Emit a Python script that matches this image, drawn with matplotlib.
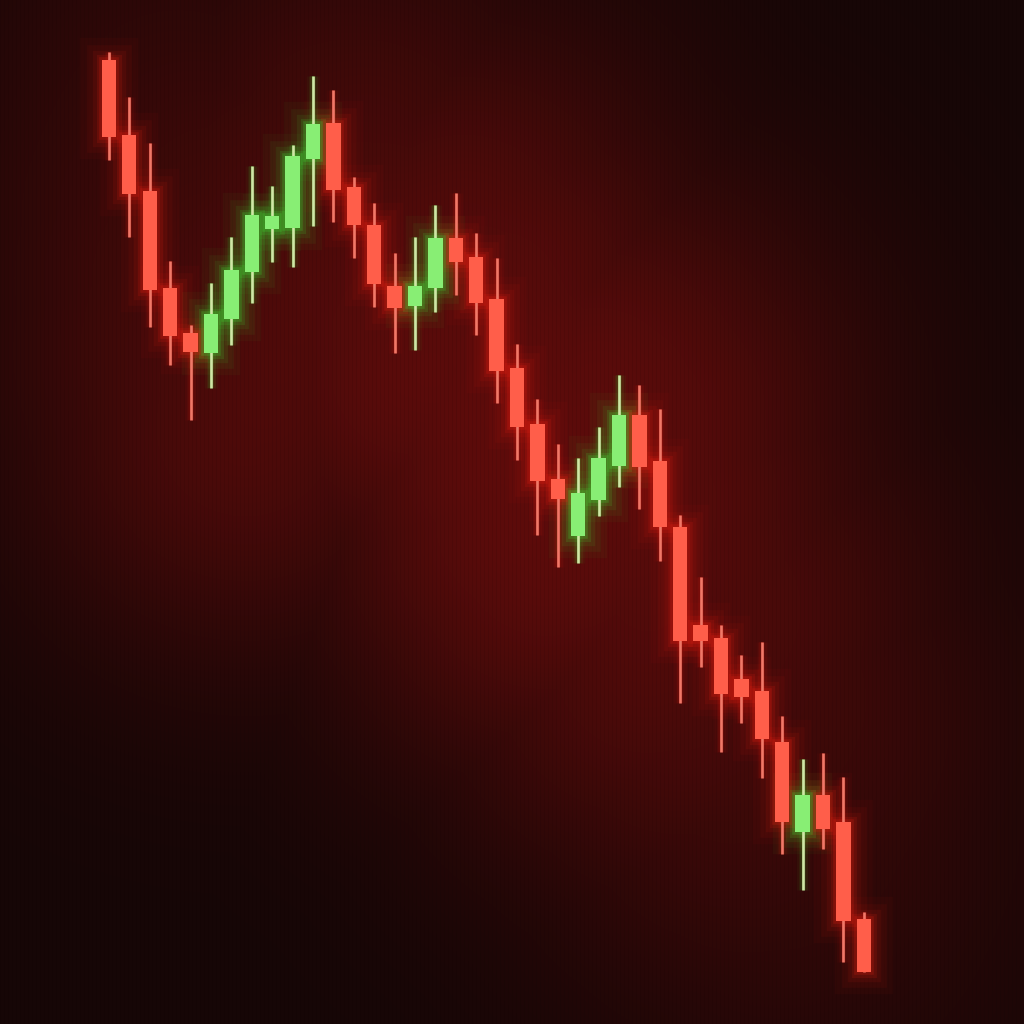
import numpy as np
import matplotlib
matplotlib.use("Agg")
import matplotlib.pyplot as plt

# ========== Data ==========
OPEN  = [96.4, 88.9, 83.3, 73.6, 69.1, 67.1, 70.5, 75.2, 79.5, 79.6,
         86.5, 90.1, 83.7, 79.9, 73.8, 71.8, 73.6, 78.6, 76.7, 72.5,
         65.6, 60.0, 54.5, 48.8, 52.4, 55.8, 60.9, 56.3, 49.7, 39.9,
         38.6, 34.5, 33.3, 28.2, 19.2, 22.9, 20.2, 10.5]
HIGH  = [97.2, 92.7, 88.1, 76.3, 69.9, 74.1, 78.7, 85.8, 83.8, 87.9,
         94.8, 93.4, 84.7, 82.1, 77.1, 78.7, 81.9, 83.1, 79.1, 76.6,
         68.0, 62.5, 58.0, 56.6, 59.7, 64.9, 63.9, 61.5, 50.9, 44.7,
         39.9, 36.9, 38.2, 30.8, 26.5, 27.1, 24.7, 11.2]
LOW   = [86.4, 78.7, 69.7, 65.9, 60.4, 63.6, 67.9, 72.1, 76.2, 75.7,
         79.8, 80.2, 76.6, 71.7, 67.1, 67.4, 71.2, 72.9, 68.9, 62.1,
         56.4, 48.9, 45.7, 46.1, 50.8, 53.7, 51.5, 46.3, 32.1, 35.7,
         27.2, 30.1, 24.6, 17.0, 13.4, 17.5, 6.2, 5.2]
CLOSE = [88.7, 83.0, 73.4, 68.8, 67.2, 71.0, 75.4, 80.9, 80.8, 86.8,
         90.0, 83.4, 79.9, 74.0, 71.6, 73.8, 78.6, 76.2, 72.1, 65.3,
         59.7, 54.3, 52.5, 53.1, 56.6, 60.9, 55.7, 49.7, 38.3, 38.3,
         33.0, 32.7, 28.5, 20.2, 22.9, 19.5, 10.3, 5.2]

# ========== Style ==========
RED_BODY   = "#ff5e4a"
RED_WICK   = "#f07868"
RED_GLOW   = "#ff2414"
GREEN_BODY = "#88ee74"
GREEN_WICK = "#d0e6a6"
GREEN_GLOW = "#3cff3c"
BG_BASE    = np.array([0x16, 0x06, 0x06]) / 255.0
BG_PEAK    = np.array([0x5e, 0x0c, 0x0b]) / 255.0

BODY_W = 0.7
XLIM = (-5.34, 44.85)
YLIM = (0.0, 102.4)
PX = 1024


def make_background(xs, highs, lows):
    """Dark backdrop with a red glow following the candles."""
    gx = np.linspace(XLIM[0], XLIM[1], PX)
    gy = np.linspace(YLIM[0], YLIM[1], PX // 4)
    X, Y = np.meshgrid(gx, gy)
    # distance (in pixels) to the nearest candle range
    dmin = np.full(X.shape, 1e9)
    for x, h, l in zip(xs, highs, lows):
        dx = (X - x) * 20.4
        dy = np.where(Y > h, Y - h, np.where(Y < l, l - Y, 0.0)) * 10.0
        dmin = np.minimum(dmin, np.hypot(dx, dy))
    cx = (X - (XLIM[0] + 500 / 20.4)) * 20.4
    cy = (Y - (YLIM[1] - 46.0)) * 10.0
    r = np.hypot(cx, cy)
    glow = np.exp(-dmin ** 2 / (2 * 200 ** 2)) * np.exp(-r ** 2 / (2 * 430 ** 2))
    glow = glow ** 1.2
    img = BG_BASE + (BG_PEAK - BG_BASE) * glow[..., None]
    # faint vertical scan stripes
    cols = np.arange(PX)
    stripe = 1.0 - 0.08 * (cols % 4 == 0)
    img = img * stripe[None, :, None]
    return np.clip(img, 0, 1)


def main():
    xs = np.arange(len(OPEN))
    o = np.array(OPEN)
    h = np.array(HIGH)
    l = np.array(LOW)
    c = np.array(CLOSE)
    up = c > o

    fig = plt.figure(figsize=(10.24, 10.24), dpi=100)
    ax = fig.add_axes([0, 0, 1, 1])
    ax.set_xlim(*XLIM)
    ax.set_ylim(*YLIM)
    ax.axis("off")

    bg = make_background(xs, h, l)
    ax.imshow(bg, extent=(XLIM[0], XLIM[1], YLIM[0], YLIM[1]),
              origin="lower", aspect="auto", zorder=0, interpolation="bilinear")

    bottoms = np.minimum(o, c)
    heights = np.maximum(np.abs(c - o), 0.4)
    body_col = [GREEN_BODY if u else RED_BODY for u in up]
    wick_col = [GREEN_WICK if u else RED_WICK for u in up]
    glow_col = [GREEN_GLOW if u else RED_GLOW for u in up]

    # halo around candles
    for lw, a in [(32, 0.035), (22, 0.055), (14, 0.08), (8, 0.12), (4, 0.18)]:
        ax.bar(xs, heights, bottom=bottoms, width=BODY_W, color="none",
               edgecolor=glow_col, linewidth=lw, alpha=a, zorder=1)
        ax.vlines(xs, l, h, colors=glow_col, linewidth=lw * 0.3, alpha=a, zorder=1)

    # wicks
    ax.vlines(xs, l, h, colors=wick_col, linewidth=1.9, zorder=2)
    # bodies
    ax.bar(xs, heights, bottom=bottoms, width=BODY_W, color=body_col,
           edgecolor="none", zorder=3)

    fig.savefig("out.png", dpi=100)
    plt.close(fig)


if __name__ == "__main__":
    main()
